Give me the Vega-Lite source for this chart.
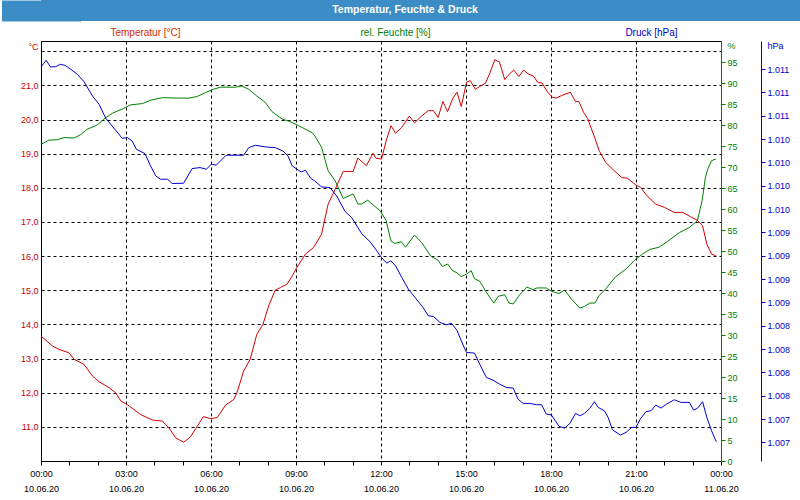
{
  "$schema": "https://vega.github.io/schema/vega-lite/v6.json",
  "background": "white",
  "padding": 0,
  "spacing": 5,
  "config": {
    "font": "Liberation Sans",
    "view": {"stroke": "#000000", "strokeWidth": 1},
    "axis": {"labelFont": "Liberation Sans", "titleFont": "Liberation Sans", "labelFontSize": 9, "titleFontSize": 10, "titleFontWeight": "normal", "labelFlush": false, "labelOverlap": false}
  },
  "datasets": {
    "temperatur": [
      {"zeit": "2020-06-10T00:00", "wert": 13.66}, {"zeit": "2020-06-10T00:24", "wert": 13.37}, {"zeit": "2020-06-10T00:38", "wert": 13.27},
      {"zeit": "2020-06-10T00:59", "wert": 13.17}, {"zeit": "2020-06-10T01:10", "wert": 12.98}, {"zeit": "2020-06-10T01:31", "wert": 12.83},
      {"zeit": "2020-06-10T01:49", "wert": 12.49}, {"zeit": "2020-06-10T02:03", "wert": 12.32}, {"zeit": "2020-06-10T02:24", "wert": 12.15},
      {"zeit": "2020-06-10T02:38", "wert": 12.0}, {"zeit": "2020-06-10T02:49", "wert": 11.76}, {"zeit": "2020-06-10T03:07", "wert": 11.61},
      {"zeit": "2020-06-10T03:31", "wert": 11.36}, {"zeit": "2020-06-10T03:56", "wert": 11.2}, {"zeit": "2020-06-10T04:17", "wert": 11.17},
      {"zeit": "2020-06-10T04:31", "wert": 10.97}, {"zeit": "2020-06-10T04:45", "wert": 10.68}, {"zeit": "2020-06-10T05:02", "wert": 10.55},
      {"zeit": "2020-06-10T05:16", "wert": 10.7}, {"zeit": "2020-06-10T05:31", "wert": 11.02}, {"zeit": "2020-06-10T05:44", "wert": 11.3},
      {"zeit": "2020-06-10T05:59", "wert": 11.24}, {"zeit": "2020-06-10T06:13", "wert": 11.27}, {"zeit": "2020-06-10T06:31", "wert": 11.64},
      {"zeit": "2020-06-10T06:48", "wert": 11.8}, {"zeit": "2020-06-10T06:55", "wert": 12.0}, {"zeit": "2020-06-10T07:09", "wert": 12.63},
      {"zeit": "2020-06-10T07:23", "wert": 12.98}, {"zeit": "2020-06-10T07:37", "wert": 13.71}, {"zeit": "2020-06-10T07:50", "wert": 14.0},
      {"zeit": "2020-06-10T08:02", "wert": 14.54}, {"zeit": "2020-06-10T08:16", "wert": 15.0}, {"zeit": "2020-06-10T08:27", "wert": 15.08},
      {"zeit": "2020-06-10T08:41", "wert": 15.18}, {"zeit": "2020-06-10T08:52", "wert": 15.42}, {"zeit": "2020-06-10T09:02", "wert": 15.67},
      {"zeit": "2020-06-10T09:20", "wert": 16.06}, {"zeit": "2020-06-10T09:37", "wert": 16.25}, {"zeit": "2020-06-10T09:54", "wert": 16.64},
      {"zeit": "2020-06-10T10:08", "wert": 17.52}, {"zeit": "2020-06-10T10:23", "wert": 17.96}, {"zeit": "2020-06-10T10:40", "wert": 18.48},
      {"zeit": "2020-06-10T11:01", "wert": 18.48}, {"zeit": "2020-06-10T11:11", "wert": 18.87}, {"zeit": "2020-06-10T11:29", "wert": 18.65},
      {"zeit": "2020-06-10T11:43", "wert": 19.01}, {"zeit": "2020-06-10T11:49", "wert": 18.87}, {"zeit": "2020-06-10T12:01", "wert": 18.84},
      {"zeit": "2020-06-10T12:11", "wert": 19.38}, {"zeit": "2020-06-10T12:21", "wert": 19.82}, {"zeit": "2020-06-10T12:31", "wert": 19.6},
      {"zeit": "2020-06-10T12:44", "wert": 19.77}, {"zeit": "2020-06-10T13:00", "wert": 20.1}, {"zeit": "2020-06-10T13:11", "wert": 19.9},
      {"zeit": "2020-06-10T13:25", "wert": 20.09}, {"zeit": "2020-06-10T13:40", "wert": 20.26}, {"zeit": "2020-06-10T13:51", "wert": 20.26},
      {"zeit": "2020-06-10T14:01", "wert": 20.06}, {"zeit": "2020-06-10T14:11", "wert": 20.53}, {"zeit": "2020-06-10T14:21", "wert": 20.23},
      {"zeit": "2020-06-10T14:32", "wert": 20.62}, {"zeit": "2020-06-10T14:41", "wert": 20.8}, {"zeit": "2020-06-10T14:50", "wert": 20.38},
      {"zeit": "2020-06-10T15:01", "wert": 21.09}, {"zeit": "2020-06-10T15:09", "wert": 21.14}, {"zeit": "2020-06-10T15:20", "wert": 20.88},
      {"zeit": "2020-06-10T15:29", "wert": 20.97}, {"zeit": "2020-06-10T15:41", "wert": 21.06}, {"zeit": "2020-06-10T15:50", "wert": 21.34},
      {"zeit": "2020-06-10T16:01", "wert": 21.75}, {"zeit": "2020-06-10T16:11", "wert": 21.68}, {"zeit": "2020-06-10T16:22", "wert": 21.17},
      {"zeit": "2020-06-10T16:29", "wert": 21.29}, {"zeit": "2020-06-10T16:41", "wert": 21.45}, {"zeit": "2020-06-10T16:52", "wert": 21.26},
      {"zeit": "2020-06-10T17:02", "wert": 21.45}, {"zeit": "2020-06-10T17:11", "wert": 21.34}, {"zeit": "2020-06-10T17:23", "wert": 21.27},
      {"zeit": "2020-06-10T17:32", "wert": 21.09}, {"zeit": "2020-06-10T17:41", "wert": 21.07}, {"zeit": "2020-06-10T17:53", "wert": 20.8},
      {"zeit": "2020-06-10T18:03", "wert": 20.65}, {"zeit": "2020-06-10T18:11", "wert": 20.63}, {"zeit": "2020-06-10T18:22", "wert": 20.7},
      {"zeit": "2020-06-10T18:41", "wert": 20.8}, {"zeit": "2020-06-10T18:52", "wert": 20.52}, {"zeit": "2020-06-10T18:59", "wert": 20.53},
      {"zeit": "2020-06-10T19:09", "wert": 20.21}, {"zeit": "2020-06-10T19:18", "wert": 20.02}, {"zeit": "2020-06-10T19:25", "wert": 19.75},
      {"zeit": "2020-06-10T19:33", "wert": 19.45}, {"zeit": "2020-06-10T19:42", "wert": 19.09}, {"zeit": "2020-06-10T19:56", "wert": 18.74},
      {"zeit": "2020-06-10T20:14", "wert": 18.5}, {"zeit": "2020-06-10T20:30", "wert": 18.3}, {"zeit": "2020-06-10T20:42", "wert": 18.28},
      {"zeit": "2020-06-10T21:00", "wert": 18.08}, {"zeit": "2020-06-10T21:10", "wert": 18.01}, {"zeit": "2020-06-10T21:23", "wert": 17.77},
      {"zeit": "2020-06-10T21:42", "wert": 17.52}, {"zeit": "2020-06-10T22:00", "wert": 17.43}, {"zeit": "2020-06-10T22:21", "wert": 17.28},
      {"zeit": "2020-06-10T22:39", "wert": 17.28}, {"zeit": "2020-06-10T22:56", "wert": 17.15}, {"zeit": "2020-06-10T23:10", "wert": 17.05},
      {"zeit": "2020-06-10T23:21", "wert": 16.89}, {"zeit": "2020-06-10T23:30", "wert": 16.35}, {"zeit": "2020-06-10T23:40", "wert": 16.06},
      {"zeit": "2020-06-10T23:49", "wert": 16.01}
    ],
    "feuchte": [
      {"zeit": "2020-06-10T00:00", "wert": 75.4}, {"zeit": "2020-06-10T00:17", "wert": 76.4}, {"zeit": "2020-06-10T00:35", "wert": 76.5},
      {"zeit": "2020-06-10T00:49", "wert": 77.0}, {"zeit": "2020-06-10T01:10", "wert": 76.9}, {"zeit": "2020-06-10T01:24", "wert": 77.7},
      {"zeit": "2020-06-10T01:38", "wert": 79.0}, {"zeit": "2020-06-10T01:59", "wert": 80.0}, {"zeit": "2020-06-10T02:13", "wert": 81.4},
      {"zeit": "2020-06-10T02:31", "wert": 82.8}, {"zeit": "2020-06-10T02:52", "wert": 83.8}, {"zeit": "2020-06-10T03:10", "wert": 84.8},
      {"zeit": "2020-06-10T03:35", "wert": 85.1}, {"zeit": "2020-06-10T03:52", "wert": 85.9}, {"zeit": "2020-06-10T04:17", "wert": 86.5},
      {"zeit": "2020-06-10T04:56", "wert": 86.4}, {"zeit": "2020-06-10T05:13", "wert": 86.4}, {"zeit": "2020-06-10T05:31", "wert": 86.8},
      {"zeit": "2020-06-10T05:48", "wert": 87.7}, {"zeit": "2020-06-10T06:05", "wert": 88.5}, {"zeit": "2020-06-10T06:20", "wert": 89.0},
      {"zeit": "2020-06-10T06:52", "wert": 89.0}, {"zeit": "2020-06-10T07:05", "wert": 89.3}, {"zeit": "2020-06-10T07:20", "wert": 88.5},
      {"zeit": "2020-06-10T07:37", "wert": 86.9}, {"zeit": "2020-06-10T07:55", "wert": 85.4}, {"zeit": "2020-06-10T08:09", "wert": 83.2},
      {"zeit": "2020-06-10T08:31", "wert": 81.4}, {"zeit": "2020-06-10T08:48", "wert": 80.8}, {"zeit": "2020-06-10T09:13", "wert": 79.4},
      {"zeit": "2020-06-10T09:34", "wert": 78.2}, {"zeit": "2020-06-10T09:40", "wert": 77.4}, {"zeit": "2020-06-10T09:54", "wert": 74.7},
      {"zeit": "2020-06-10T10:08", "wert": 69.1}, {"zeit": "2020-06-10T10:23", "wert": 66.7}, {"zeit": "2020-06-10T10:40", "wert": 62.5},
      {"zeit": "2020-06-10T11:01", "wert": 63.6}, {"zeit": "2020-06-10T11:11", "wert": 61.2}, {"zeit": "2020-06-10T11:19", "wert": 61.2},
      {"zeit": "2020-06-10T11:32", "wert": 62.1}, {"zeit": "2020-06-10T11:44", "wert": 60.9}, {"zeit": "2020-06-10T11:58", "wert": 59.6},
      {"zeit": "2020-06-10T12:11", "wert": 57.2}, {"zeit": "2020-06-10T12:21", "wert": 52.4}, {"zeit": "2020-06-10T12:29", "wert": 51.8},
      {"zeit": "2020-06-10T12:43", "wert": 52.2}, {"zeit": "2020-06-10T12:52", "wert": 50.9}, {"zeit": "2020-06-10T13:11", "wert": 53.8},
      {"zeit": "2020-06-10T13:26", "wert": 52.0}, {"zeit": "2020-06-10T13:46", "wert": 48.7}, {"zeit": "2020-06-10T14:00", "wert": 47.9},
      {"zeit": "2020-06-10T14:10", "wert": 46.3}, {"zeit": "2020-06-10T14:21", "wert": 46.9}, {"zeit": "2020-06-10T14:32", "wert": 45.3},
      {"zeit": "2020-06-10T14:41", "wert": 44.8}, {"zeit": "2020-06-10T14:50", "wert": 43.9}, {"zeit": "2020-06-10T15:01", "wert": 44.5},
      {"zeit": "2020-06-10T15:11", "wert": 45.3}, {"zeit": "2020-06-10T15:18", "wert": 43.4}, {"zeit": "2020-06-10T15:29", "wert": 42.8},
      {"zeit": "2020-06-10T15:43", "wert": 40.2}, {"zeit": "2020-06-10T15:59", "wert": 37.6}, {"zeit": "2020-06-10T16:08", "wert": 39.2},
      {"zeit": "2020-06-10T16:22", "wert": 39.6}, {"zeit": "2020-06-10T16:31", "wert": 37.6}, {"zeit": "2020-06-10T16:40", "wert": 37.4},
      {"zeit": "2020-06-10T16:53", "wert": 39.5}, {"zeit": "2020-06-10T17:09", "wert": 41.4}, {"zeit": "2020-06-10T17:22", "wert": 40.8},
      {"zeit": "2020-06-10T17:30", "wert": 41.2}, {"zeit": "2020-06-10T17:50", "wert": 41.2}, {"zeit": "2020-06-10T18:01", "wert": 40.4},
      {"zeit": "2020-06-10T18:17", "wert": 39.9}, {"zeit": "2020-06-10T18:29", "wert": 40.7}, {"zeit": "2020-06-10T18:43", "wert": 38.6},
      {"zeit": "2020-06-10T19:01", "wert": 36.4}, {"zeit": "2020-06-10T19:11", "wert": 36.8}, {"zeit": "2020-06-10T19:22", "wert": 37.6},
      {"zeit": "2020-06-10T19:33", "wert": 37.6}, {"zeit": "2020-06-10T19:42", "wert": 39.4}, {"zeit": "2020-06-10T19:56", "wert": 41.0},
      {"zeit": "2020-06-10T20:17", "wert": 43.9}, {"zeit": "2020-06-10T20:39", "wert": 45.7}, {"zeit": "2020-06-10T20:56", "wert": 47.7},
      {"zeit": "2020-06-10T21:14", "wert": 49.3}, {"zeit": "2020-06-10T21:30", "wert": 50.4}, {"zeit": "2020-06-10T21:49", "wert": 50.9},
      {"zeit": "2020-06-10T22:07", "wert": 52.3}, {"zeit": "2020-06-10T22:32", "wert": 54.4}, {"zeit": "2020-06-10T22:53", "wert": 55.6},
      {"zeit": "2020-06-10T23:10", "wert": 57.2}, {"zeit": "2020-06-10T23:20", "wert": 62.0}, {"zeit": "2020-06-10T23:27", "wert": 67.5},
      {"zeit": "2020-06-10T23:32", "wert": 69.5}, {"zeit": "2020-06-10T23:40", "wert": 71.5}, {"zeit": "2020-06-10T23:49", "wert": 71.9}
    ],
    "druck": [
      {"zeit": "2020-06-10T00:00", "wert": 1011.022}, {"zeit": "2020-06-10T00:11", "wert": 1011.093}, {"zeit": "2020-06-10T00:20", "wert": 1011.022},
      {"zeit": "2020-06-10T00:31", "wert": 1011.025}, {"zeit": "2020-06-10T00:41", "wert": 1011.05}, {"zeit": "2020-06-10T00:51", "wert": 1011.039},
      {"zeit": "2020-06-10T01:03", "wert": 1010.997}, {"zeit": "2020-06-10T01:17", "wert": 1010.943}, {"zeit": "2020-06-10T01:31", "wert": 1010.865},
      {"zeit": "2020-06-10T01:49", "wert": 1010.711}, {"zeit": "2020-06-10T02:03", "wert": 1010.622}, {"zeit": "2020-06-10T02:17", "wert": 1010.472},
      {"zeit": "2020-06-10T02:38", "wert": 1010.344}, {"zeit": "2020-06-10T02:52", "wert": 1010.258}, {"zeit": "2020-06-10T03:03", "wert": 1010.265},
      {"zeit": "2020-06-10T03:13", "wert": 1010.229}, {"zeit": "2020-06-10T03:22", "wert": 1010.14}, {"zeit": "2020-06-10T03:40", "wert": 1010.094},
      {"zeit": "2020-06-10T03:52", "wert": 1009.962}, {"zeit": "2020-06-10T04:03", "wert": 1009.855}, {"zeit": "2020-06-10T04:13", "wert": 1009.819},
      {"zeit": "2020-06-10T04:28", "wert": 1009.819}, {"zeit": "2020-06-10T04:38", "wert": 1009.773}, {"zeit": "2020-06-10T05:02", "wert": 1009.776},
      {"zeit": "2020-06-10T05:20", "wert": 1009.933}, {"zeit": "2020-06-10T05:37", "wert": 1009.944}, {"zeit": "2020-06-10T05:50", "wert": 1009.926},
      {"zeit": "2020-06-10T06:01", "wert": 1009.98}, {"zeit": "2020-06-10T06:11", "wert": 1009.969}, {"zeit": "2020-06-10T06:32", "wert": 1010.076},
      {"zeit": "2020-06-10T07:09", "wert": 1010.076}, {"zeit": "2020-06-10T07:20", "wert": 1010.158}, {"zeit": "2020-06-10T07:34", "wert": 1010.183},
      {"zeit": "2020-06-10T07:55", "wert": 1010.165}, {"zeit": "2020-06-10T08:16", "wert": 1010.158}, {"zeit": "2020-06-10T08:32", "wert": 1010.122},
      {"zeit": "2020-06-10T08:43", "wert": 1010.069}, {"zeit": "2020-06-10T08:52", "wert": 1009.962}, {"zeit": "2020-06-10T09:02", "wert": 1009.926},
      {"zeit": "2020-06-10T09:11", "wert": 1009.897}, {"zeit": "2020-06-10T09:20", "wert": 1009.915}, {"zeit": "2020-06-10T09:31", "wert": 1009.83},
      {"zeit": "2020-06-10T09:40", "wert": 1009.8}, {"zeit": "2020-06-10T09:54", "wert": 1009.737}, {"zeit": "2020-06-10T10:12", "wert": 1009.73},
      {"zeit": "2020-06-10T10:26", "wert": 1009.64}, {"zeit": "2020-06-10T10:44", "wert": 1009.473}, {"zeit": "2020-06-10T10:58", "wert": 1009.408},
      {"zeit": "2020-06-10T11:19", "wert": 1009.237}, {"zeit": "2020-06-10T11:37", "wert": 1009.148}, {"zeit": "2020-06-10T11:51", "wert": 1009.052},
      {"zeit": "2020-06-10T12:01", "wert": 1008.98}, {"zeit": "2020-06-10T12:12", "wert": 1008.92}, {"zeit": "2020-06-10T12:21", "wert": 1008.944},
      {"zeit": "2020-06-10T12:31", "wert": 1008.891}, {"zeit": "2020-06-10T12:44", "wert": 1008.766}, {"zeit": "2020-06-10T12:58", "wert": 1008.641},
      {"zeit": "2020-06-10T13:12", "wert": 1008.552}, {"zeit": "2020-06-10T13:29", "wert": 1008.445}, {"zeit": "2020-06-10T13:40", "wert": 1008.356},
      {"zeit": "2020-06-10T13:51", "wert": 1008.349}, {"zeit": "2020-06-10T14:05", "wert": 1008.284}, {"zeit": "2020-06-10T14:19", "wert": 1008.259},
      {"zeit": "2020-06-10T14:29", "wert": 1008.277}, {"zeit": "2020-06-10T14:41", "wert": 1008.2}, {"zeit": "2020-06-10T14:50", "wert": 1008.088},
      {"zeit": "2020-06-10T15:01", "wert": 1007.963}, {"zeit": "2020-06-10T15:18", "wert": 1007.956}, {"zeit": "2020-06-10T15:29", "wert": 1007.838},
      {"zeit": "2020-06-10T15:43", "wert": 1007.695}, {"zeit": "2020-06-10T15:57", "wert": 1007.667}, {"zeit": "2020-06-10T16:11", "wert": 1007.624},
      {"zeit": "2020-06-10T16:25", "wert": 1007.588}, {"zeit": "2020-06-10T16:40", "wert": 1007.581}, {"zeit": "2020-06-10T16:50", "wert": 1007.463},
      {"zeit": "2020-06-10T17:01", "wert": 1007.417}, {"zeit": "2020-06-10T17:15", "wert": 1007.417}, {"zeit": "2020-06-10T17:29", "wert": 1007.403},
      {"zeit": "2020-06-10T17:40", "wert": 1007.403}, {"zeit": "2020-06-10T17:50", "wert": 1007.303}, {"zeit": "2020-06-10T18:01", "wert": 1007.292},
      {"zeit": "2020-06-10T18:17", "wert": 1007.171}, {"zeit": "2020-06-10T18:29", "wert": 1007.153}, {"zeit": "2020-06-10T18:40", "wert": 1007.203},
      {"zeit": "2020-06-10T18:52", "wert": 1007.31}, {"zeit": "2020-06-10T19:01", "wert": 1007.285}, {"zeit": "2020-06-10T19:11", "wert": 1007.31},
      {"zeit": "2020-06-10T19:22", "wert": 1007.364}, {"zeit": "2020-06-10T19:32", "wert": 1007.435}, {"zeit": "2020-06-10T19:40", "wert": 1007.374},
      {"zeit": "2020-06-10T19:53", "wert": 1007.339}, {"zeit": "2020-06-10T20:01", "wert": 1007.267}, {"zeit": "2020-06-10T20:10", "wert": 1007.135},
      {"zeit": "2020-06-10T20:27", "wert": 1007.078}, {"zeit": "2020-06-10T20:39", "wert": 1007.107}, {"zeit": "2020-06-10T20:51", "wert": 1007.16},
      {"zeit": "2020-06-10T21:00", "wert": 1007.16}, {"zeit": "2020-06-10T21:09", "wert": 1007.249}, {"zeit": "2020-06-10T21:21", "wert": 1007.328},
      {"zeit": "2020-06-10T21:32", "wert": 1007.339}, {"zeit": "2020-06-10T21:42", "wert": 1007.399}, {"zeit": "2020-06-10T21:53", "wert": 1007.367},
      {"zeit": "2020-06-10T22:05", "wert": 1007.41}, {"zeit": "2020-06-10T22:21", "wert": 1007.456}, {"zeit": "2020-06-10T22:35", "wert": 1007.428},
      {"zeit": "2020-06-10T22:53", "wert": 1007.428}, {"zeit": "2020-06-10T23:02", "wert": 1007.346}, {"zeit": "2020-06-10T23:10", "wert": 1007.364},
      {"zeit": "2020-06-10T23:21", "wert": 1007.435}, {"zeit": "2020-06-10T23:30", "wert": 1007.267}, {"zeit": "2020-06-10T23:40", "wert": 1007.124},
      {"zeit": "2020-06-10T23:50", "wert": 1007.007}
    ]
  },
  "vconcat": [
    {
      "width": 760,
      "height": 21,
      "view": {"fill": "#3c8dc5", "stroke": null},
      "data": {"values": [{"titel": "Temperatur, Feuchte & Druck"}]},
      "mark": {"type": "text", "color": "#ffffff", "font": "Liberation Sans", "fontWeight": "bold", "fontSize": 10.5, "dx": -16, "dy": -1},
      "encoding": {
        "text": {"field": "titel", "type": "nominal"},
        "y": {
          "field": "titel", "type": "nominal",
          "axis": {"title": null, "labels": false, "ticks": false, "grid": false, "domain": true, "domainColor": "#3c8dc5", "domainWidth": 79, "minExtent": 40, "maxExtent": 40}
        }
      }
    },
    {
      "width": 680,
      "height": 420,
      "layer": [
        {
          "data": {"name": "temperatur"},
          "mark": {"type": "line", "strokeWidth": 1, "color": "#d40000"},
          "encoding": {
            "x": {
              "field": "zeit", "type": "temporal",
              "scale": {"domain": [{"year": 2020, "month": 6, "date": 10, "hours": 0, "minutes": 0}, {"year": 2020, "month": 6, "date": 11, "hours": 0, "minutes": 0}]},
              "axis": {
                "title": null,
                "tickCount": 24,
                "labelExpr": "hours(datum.value) % 3 == 0 ? [timeFormat(datum.value, '%H:%M'), timeFormat(datum.value, '%d.%m.%y')] : ''",
                "labelColor": "#000000",
                "labelLineHeight": 15,
                "labelPadding": 4,
                "labelAngle": 0,
                "tickSize": 4,
                "tickColor": "#000000",
                "domainColor": "#000000",
                "grid": true,
                "gridColor": "#000000",
                "gridDash": [3, 3],
                "gridWidth": 1,
                "gridOpacity": {"condition": {"test": "hours(datum.value) % 3 == 0 && hours(datum.value) != 0", "value": 1}, "value": 0}
              }
            },
            "y": {
              "field": "wert", "type": "quantitative",
              "scale": {"domain": [10, 22.3], "nice": false, "zero": false},
              "axis": {
                "orient": "left",
                "values": [11, 12, 13, 14, 15, 16, 17, 18, 19, 20, 21, 22, 22.15],
                "labelExpr": "datum.value > 22.1 ? '°C' : (datum.value > 21.5 ? '' : format(datum.value, 'd') + ',0')",
                "labelColor": "#cc0000",
                "ticks": false,
                "domain": false,
                "labelPadding": 3,
                "grid": true,
                "gridColor": "#000000",
                "gridDash": [3, 3],
                "gridOpacity": {"condition": {"test": "datum.value > 22.1", "value": 0}, "value": 1},
                "title": "Temperatur [°C]",
                "titleColor": "#d42a00",
                "titleAngle": 0,
                "titleAlign": "center",
                "titleBaseline": "middle",
                "titleX": 104,
                "titleY": -9,
                "minExtent": 40,
                "maxExtent": 40
              }
            }
          }
        },
        {
          "data": {"name": "feuchte"},
          "mark": {"type": "line", "strokeWidth": 1, "color": "#008000"},
          "encoding": {
            "x": {"field": "zeit", "type": "temporal"},
            "y": {
              "field": "wert", "type": "quantitative",
              "scale": {"domain": [0, 100], "nice": false},
              "axis": {
                "orient": "right",
                "values": [0, 5, 10, 15, 20, 25, 30, 35, 40, 45, 50, 55, 60, 65, 70, 75, 80, 85, 90, 95, 98.9],
                "labelExpr": "datum.value > 96 ? '%' : format(datum.value, 'd')",
                "labelColor": "#008000", "domainColor": "#008000", "tickColor": "#008000", "tickSize": 4, "labelPadding": 2, "grid": false,
                "tickOpacity": {"condition": {"test": "datum.value > 96", "value": 0}, "value": 1},
                "title": "rel. Feuchte [%]", "titleColor": "#008000", "titleAngle": 0, "titleAlign": "center", "titleBaseline": "middle", "titleX": -326, "titleY": -9
              }
            }
          }
        },
        {
          "data": {"name": "druck"},
          "mark": {"type": "line", "strokeWidth": 1, "color": "#0000d0"},
          "encoding": {
            "x": {"field": "zeit", "type": "temporal"},
            "y": {
              "field": "wert", "type": "quantitative",
              "scale": {"domain": [1006.8, 1011.3], "nice": false, "zero": false},
              "axis": {
                "orient": "right", "offset": 40,
                "values": [1007, 1007.25, 1007.5, 1007.75, 1008, 1008.25, 1008.5, 1008.75, 1009, 1009.25, 1009.5, 1009.75, 1010, 1010.25, 1010.5, 1010.75, 1011, 1011.25],
                "labelExpr": "datum.value > 1011.1 ? 'hPa' : format(round(datum.value) / 1000, '.3f')",
                "labelColor": "#0000cc", "domainColor": "#0000cc", "tickColor": "#0000cc", "tickSize": 4, "labelPadding": 2, "grid": false,
                "tickOpacity": {"condition": {"test": "datum.value > 1011.1", "value": 0}, "value": 1},
                "title": "Druck [hPa]", "titleColor": "#0000cc", "titleAngle": 0, "titleAlign": "center", "titleBaseline": "middle", "titleX": -110, "titleY": -9
              }
            }
          }
        }
      ],
      "resolve": {"scale": {"y": "independent"}, "axis": {"y": "independent"}}
    }
  ]
}
